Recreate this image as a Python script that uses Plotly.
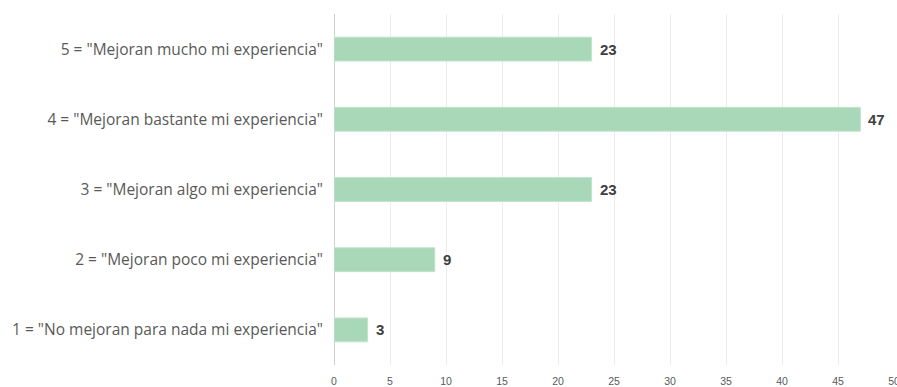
import plotly.graph_objects as go

# Survey responses: how much the features improve the experience
categories = [
    '1 = "No mejoran para nada mi experiencia"',
    '2 = "Mejoran poco mi experiencia"',
    '3 = "Mejoran algo mi experiencia"',
    '4 = "Mejoran bastante mi experiencia"',
    '5 = "Mejoran mucho mi experiencia"',
]
counts = [3, 9, 23, 47, 23]
x_ticks = [0, 5, 10, 15, 20, 25, 30, 35, 40, 45, 50]

bar_color = "#a8d8b8"
label_font = "Liberation Sans, Arial, sans-serif"
cat_font = "Open Sans, sans-serif"

fig = go.Figure(
    go.Bar(
        x=counts,
        y=categories,
        orientation="h",
        marker=dict(color=bar_color, line=dict(color="#c2e4cd", width=1)),
        width=0.34,
        hoverinfo="skip",
    )
)

# Value labels to the right of each bar
for cat, val in zip(categories, counts):
    fig.add_annotation(
        x=val, y=cat, text=f"<b>{val}</b>", showarrow=False,
        xanchor="left", yanchor="middle", xshift=6,
        font=dict(family=label_font, size=15, color="#404040"),
    )

fig.update_layout(
    width=897, height=387,
    margin=dict(l=334, r=3, t=14, b=22),
    paper_bgcolor="white", plot_bgcolor="white",
    showlegend=False,
    font=dict(family=label_font, color="#595959"),
)
fig.update_xaxes(
    range=[0, 50], tickvals=x_ticks, showgrid=True, gridcolor="#ececec",
    gridwidth=1, zeroline=True, zerolinecolor="#d0d0d0", zerolinewidth=1,
    tickfont=dict(size=10.5, color="#595959"), ticks="", showline=False,
    ticklabelstandoff=8, ticklabeloverflow="allow", automargin=False,
    fixedrange=True,
)
fig.update_yaxes(
    categoryorder="array", categoryarray=categories,
    tickfont=dict(family=cat_font, size=15.5, color="#595959"), ticks="",
    ticklabelstandoff=10, showgrid=False, automargin=False, fixedrange=True,
)

fig.write_html("out.html")
